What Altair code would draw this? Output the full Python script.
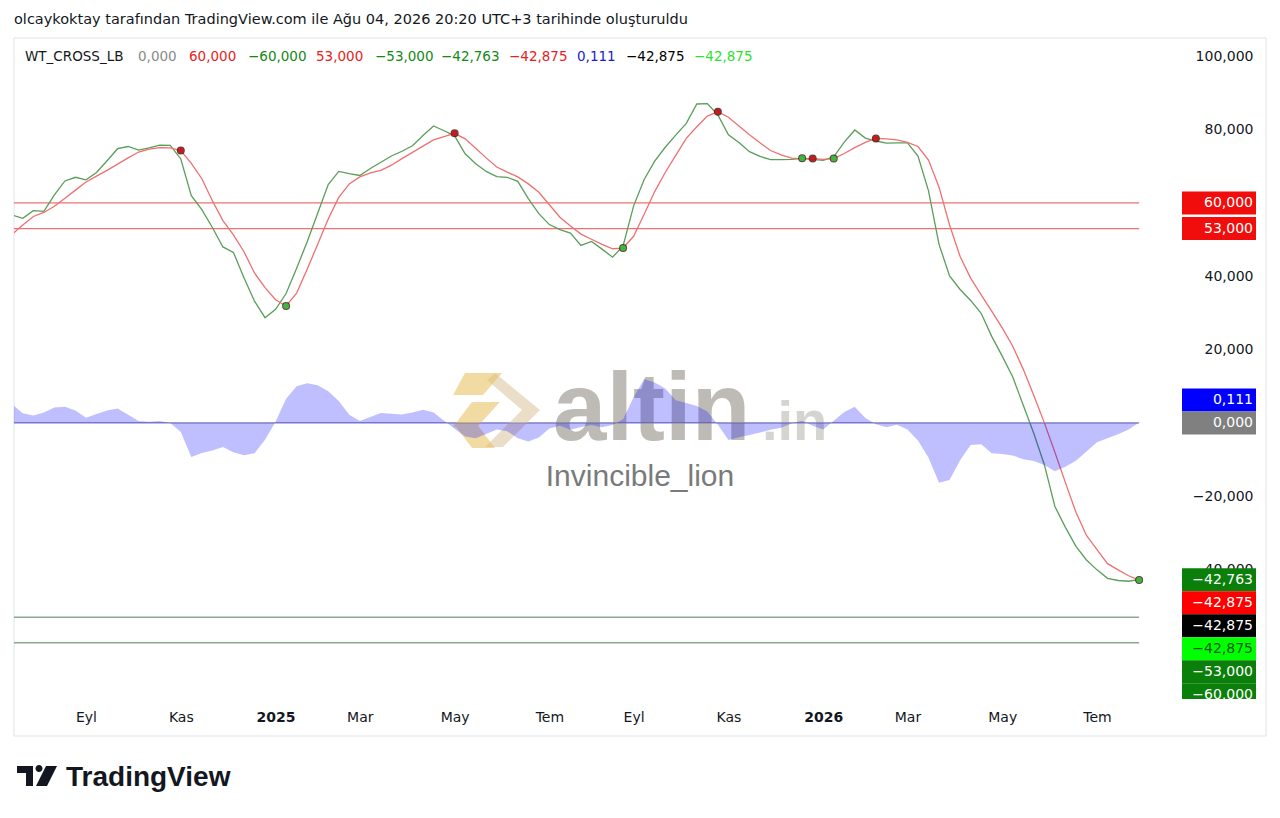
import altair as alt
import pandas as pd

# ------------------------------------------------------------------ data
START = "2024-07-15"  # first weekly bar (Monday)

wt1 = [56.7, 55.8, 57.9, 57.7, 62.2, 66.0, 67.0, 66.3, 68.3, 71.5,
       74.8, 75.4, 74.4, 75.0, 75.8, 75.7, 72.0, 62.0, 58.2, 53.3,
       48.0, 46.5, 39.6, 33.2, 28.7, 31.0, 35.3, 42.2, 49.4, 57.2,
       65.0, 68.6, 68.0, 67.5, 69.4, 71.1, 72.8, 74.1, 75.6, 78.4,
       81.0, 79.7, 78.3, 73.4, 70.7, 68.6, 67.2, 67.0, 65.9, 61.2,
       57.1, 54.1, 52.7, 51.8, 48.4, 49.5, 47.4, 45.2, 48.3, 59.2,
       66.4, 71.4, 75.2, 78.5, 81.7, 87.0, 87.1, 84.0, 78.6, 76.5,
       74.0, 72.7, 71.8, 71.8, 71.9, 72.2, 71.9, 71.6, 72.6, 76.6,
       79.9, 77.7, 76.9, 76.3, 76.4, 76.4, 72.8, 63.3, 48.7, 40.1,
       36.4, 33.4, 29.9, 23.6, 18.2, 12.5, 4.8, -2.9, -11.4, -22.8,
       -28.5, -33.7, -37.4, -40.1, -42.4, -43.0, -43.2, -42.763]

wt2 = [51.5, 54.0, 56.3, 57.4, 59.1, 61.3, 63.5, 65.7, 67.3, 68.9,
       70.6, 72.3, 73.9, 74.7, 75.1, 75.0, 74.3, 70.8, 66.6, 60.6,
       55.2, 51.3, 46.7, 40.9, 36.9, 33.6, 31.9, 35.4, 41.9, 48.7,
       55.6, 61.5, 65.2, 67.1, 68.2, 68.9, 70.3, 72.1, 73.8, 75.5,
       77.2, 78.1, 79.0, 77.5, 74.9, 72.3, 69.8, 68.4, 67.1, 65.2,
       62.9, 59.5, 56.1, 53.7, 51.5, 50.1, 48.7, 47.5, 47.7, 50.9,
       56.9, 63.1, 68.3, 73.0, 77.6, 80.8, 83.7, 84.9, 83.4, 81.0,
       78.6, 76.4, 74.3, 73.1, 72.2, 72.0, 72.1, 71.9, 72.1, 73.5,
       75.1, 76.5, 77.6, 77.5, 77.2, 76.5, 75.4, 71.7, 64.3, 54.0,
       45.4, 39.5, 34.9, 30.5, 25.9, 20.9, 14.6, 7.5, 0.0, -8.0,
       -16.3, -24.4, -30.7, -34.6, -38.4, -40.1, -41.7, -42.875]

wt_diff = [5.0, 2.6, 2.0, 2.8, 4.2, 4.4, 3.4, 1.4, 2.4, 3.4,
           3.9, 2.2, 0.5, 0.3, 0.5, 0.0, -2.5, -9.3, -8.2, -7.5,
           -6.6, -8.0, -8.8, -8.3, -4.6, 0.3, 6.6, 10.0, 10.8, 10.3,
           8.6, 6.0, 2.2, 0.5, 1.6, 2.7, 2.5, 2.3, 2.8, 3.6,
           2.8, 0.6, -1.6, -3.7, -4.2, -3.0, -1.8, -2.3, -4.2, -5.1,
           -4.0, -1.5, -0.8, -1.9, -1.1, -0.6, -1.2, -0.6, 1.0, 7.0,
           12.0, 11.0, 9.4, 6.2, 5.4, 4.6, 3.1, -0.5, -4.7, -3.9,
           -3.3, -2.6, -1.9, -1.3, -0.2, 0.6, -0.8, -1.8, 0.6, 3.0,
           4.4, 1.3, -0.4, -1.2, -0.5, -1.8, -4.8, -9.5, -16.3, -15.6,
           -10.2, -6.0, -5.8, -8.3, -8.5, -8.9, -9.9, -10.4, -11.5, -13.2,
           -12.0, -10.3, -7.8, -5.3, -4.2, -3.1, -1.8, 0.111]

cross_dates = ["2024-11-04", "2025-01-13", "2025-05-05", "2025-08-25", "2025-10-27",
               "2025-12-22", "2025-12-29", "2026-01-12", "2026-02-09", "2026-08-03"]
cross_values = [74.3, 31.9, 79.0, 47.7, 84.9, 72.2, 72.1, 72.1, 77.6, -42.875]
cross_dir = ["down", "up", "down", "up", "down", "up", "down", "up", "down", "up"]

ob_levels = [60.0, 53.0]
os_levels = [-53.0, -60.0]

legend_name = "WT_CROSS_LB"
legend_values = [0.0, 60.0, -60.0, 53.0, -53.0, -42.763, -42.875, 0.111, -42.875, -42.875]

scale_label_values = [60.0, 53.0, 0.111, 0.0, -42.763, -42.875, -42.875, -42.875, -53.0, -60.0]

month_ticks = ["2024-09-02", "2024-11-04", "2025-01-06", "2025-03-03", "2025-05-05", "2025-07-07",
               "2025-09-01", "2025-11-03", "2026-01-05", "2026-03-02", "2026-05-04", "2026-07-06"]
y_ticks = [100, 80, 40, 20, -20, -40]

title_text = "olcaykoktay tarafından TradingView.com ile Ağu 04, 2026 20:20 UTC+3 tarihinde oluşturuldu"

# ------------------------------------------------------------------ styles / layout
W, H = 1166, 662
YMIN, YMAX = -75.6, 105.0
FONT = "DejaVu Sans"
INK = "#131722"
GREEN_LINE = "#5a9e5a"
RED_LINE = "#ef7070"

legend_colors = ["#8a8a8a", "#e52222", "#138a13", "#e52222", "#138a13",
                 "#138a13", "#e52222", "#1c1cc8", "#000000", "#2fe02f"]
LEGEND_X = [11, 124, 175, 234, 302, 361, 427, 495, 563, 612, 680]

label_fill = ["#f20d0d", "#f20d0d", "#0000ff", "#808080", "#0a800a",
              "#ff0000", "#000000", "#00ff00", "#0a800a", "#0a800a"]
label_ink = ["#ffffff", "#ffffff", "#ffffff", "#ffffff", "#ffffff",
             "#ffffff", "#ffffff", "#0d5a0d", "#ffffff", "#ffffff"]
LABEL_ANCHOR = [0, 1, 3, 3, 4, 4, 4, 4, 4, 4]
LABEL_ROW = [0, 0, -1, 0, 0, 1, 2, 3, 4, 5]
BOX_H = 23.0
PX_PER_UNIT = H / (YMAX - YMIN)


def fmt(v):
    return f"{v:.3f}".replace(".", ",").replace("-", "\u2212")


def dt(s, h=0, m=0):
    y, mo, d = (int(p) for p in s.split("-"))
    return alt.DateTime(year=y, month=mo, date=d, hours=h, minutes=m, utc=True)


dates = [(pd.Timestamp(START) + pd.Timedelta(days=7 * i)).strftime("%Y-%m-%d")
         for i in range(len(wt1))]
df = pd.DataFrame({"date": dates, "wt1": wt1, "wt2": wt2, "diff": wt_diff})
cross_df = pd.DataFrame({"date": cross_dates, "value": cross_values, "dir": cross_dir})
lvl_df = pd.DataFrame({
    "level": ob_levels + os_levels + [0.0],
    "kind": ["ob"] * len(ob_levels) + ["os"] * len(os_levels) + ["zero"],
    "start": dates[0], "end": dates[-1],
})
disp = [scale_label_values[a] - r * BOX_H / PX_PER_UNIT for a, r in zip(LABEL_ANCHOR, LABEL_ROW)]
lab_df = pd.DataFrame({
    "text": [fmt(v) for v in scale_label_values],
    "disp": disp, "fill": label_fill, "ink": label_ink,
})
one = pd.DataFrame({"k": [0]})

# ------------------------------------------------------------------ scales / axes
xscale = alt.Scale(type="utc", domain=[dt("2024-07-16", 3, 26), dt("2026-08-30", 3, 50)])
yscale = alt.Scale(domain=[YMIN, YMAX], nice=False, zero=False)

x_axis = alt.Axis(
    values=[dt(s) for s in month_ticks],
    labelExpr="utcmonth(datum.value) == 0 ? utcFormat(datum.value, '%Y') : "
              "['Oca','Şub','Mar','Nis','May','Haz','Tem','Ağu','Eyl','Eki','Kas','Ara'][utcmonth(datum.value)]",
    labelFontWeight={"condition": {"test": "utcmonth(datum.value) == 0", "value": "bold"}, "value": "normal"},
    labelFont=FONT, labelFontSize=14, labelColor=INK, labelBaseline="middle",
    labelPadding=17, ticks=False, tickSize=0, domain=False, grid=False,
    labelOverlap=False, labelFlush=False, title=None,
)
y_axis = alt.Axis(
    values=y_ticks, orient="right",
    labelExpr="replace(format(datum.value, '.3f'), '.', ',')",
    labelFont=FONT, labelFontSize=14, labelColor=INK, labelAlign="right",
    labelBaseline="middle", labelPadding=73, ticks=False, tickSize=0,
    domain=False, grid=False, labelOverlap=False, labelFlush=False, title=None,
)


def X(field):
    return alt.X(field, scale=xscale, axis=x_axis)


def Y(field):
    return alt.Y(field, scale=yscale, axis=y_axis)


# ------------------------------------------------------------------ layers
layers = []

# pane border
layers.append(alt.Chart(one).mark_rect(fillOpacity=0, stroke="#e0e3eb", strokeWidth=1).encode(
    x=alt.value(0), x2=alt.value(1252), y=alt.value(0), y2=alt.value(698)))

# level lines
for kind, col, sw in [("zero", "#7c7cb4", 1.2), ("ob", "#ee7070", 1.2), ("os", "#8aab8a", 1.5)]:
    layers.append(alt.Chart(lvl_df).transform_filter(alt.datum.kind == kind).mark_rule(
        color=col, strokeWidth=sw, clip=True).encode(
        x=X("start:T"), x2="end:T", y=Y("level:Q")))

# watermark logo
logo_beige = "M0,-0.822L1,0L0.178,0.822L-0.222,0.822L0.6,0L-0.178,-0.667Z"
logo_gold = ("M-0.667,-0.822L0.156,-0.822L-0.267,-0.333L-0.933,-0.333Z "
             "M-0.511,-0.178L0.111,-0.178L-0.4,0.378L-0.933,0.378Z "
             "M-0.933,0.289L-0.422,0.289L0,0.844L-0.511,0.844Z")
layers.append(alt.Chart(one).mark_point(shape=logo_beige, size=8100, filled=True, color="#d9c29c",
                                        opacity=0.55, strokeWidth=0).encode(
    x=alt.value(481), y=alt.value(372)))
layers.append(alt.Chart(one).mark_point(shape=logo_gold, size=8100, filled=True, color="#e6bd58",
                                        opacity=0.55, strokeWidth=0).encode(
    x=alt.value(481), y=alt.value(372)))
layers.append(alt.Chart(one).mark_text(text="altin", font="Liberation Sans", fontWeight="bold",
                                       fontSize=96, color="#8a857d", opacity=0.55, align="left",
                                       baseline="alphabetic").encode(
    x=alt.value(539), y=alt.value(402)))
layers.append(alt.Chart(one).mark_text(text=".in", font="Liberation Sans", fontWeight="bold",
                                       fontSize=56, color="#8a857d", opacity=0.35, align="left",
                                       baseline="alphabetic").encode(
    x=alt.value(748), y=alt.value(402)))
layers.append(alt.Chart(one).mark_text(text="Invincible_lion", font="Liberation Sans",
                                       fontSize=30, color="#7a7a7a", align="center",
                                       baseline="middle").encode(
    x=alt.value(626), y=alt.value(439)))

# series
base = alt.Chart(df)
layers.append(base.mark_line(color=GREEN_LINE, strokeWidth=1.3, clip=True).encode(
    x=X("date:T"), y=Y("wt1:Q")))
layers.append(base.mark_line(color=RED_LINE, strokeWidth=1.3, clip=True).encode(
    x=X("date:T"), y=Y("wt2:Q")))
layers.append(base.mark_area(color="#0000ff", opacity=0.25, clip=True).encode(
    x=X("date:T"), y=Y("diff:Q"), y2=alt.datum(0)))

# cross dots
for d, col in [("down", "#c41c1c"), ("up", "#3cb83c")]:
    sub = alt.Chart(cross_df).transform_filter(alt.datum.dir == d)
    layers.append(sub.mark_circle(size=64, color="#3a1414", opacity=0.8).encode(
        x=X("date:T"), y=Y("value:Q")))
    layers.append(sub.mark_circle(size=36, color=col, opacity=1).encode(
        x=X("date:T"), y=Y("value:Q")))

# price-scale labels
lab = alt.Chart(lab_df)
layers.append(lab.mark_rect(yOffset=-BOX_H / 2, y2Offset=BOX_H / 2).encode(
    x=alt.value(1168), x2=alt.value(1242), y=Y("disp:Q"), y2="disp:Q",
    color=alt.Color("fill:N", scale=None)))
layers.append(lab.mark_text(align="right", baseline="middle", font=FONT, fontSize=14).encode(
    x=alt.value(1239), y=Y("disp:Q"), text="text:N", color=alt.Color("ink:N", scale=None)))
# time-axis strip under the price scale
layers.append(alt.Chart(one).mark_rect(color="white").encode(
    x=alt.value(1166), x2=alt.value(1250), y=alt.value(661), y2=alt.value(697)))

# legend row
legend_texts = [legend_name] + [fmt(v) for v in legend_values]
legend_cols = [INK] + legend_colors
for t, c, lx in zip(legend_texts, legend_cols, LEGEND_X):
    layers.append(alt.Chart(one).mark_text(text=t, font=FONT, fontSize=13.5, color=c,
                                           align="left", baseline="middle").encode(
        x=alt.value(lx), y=alt.value(19)))

# header text
layers.append(alt.Chart(one).mark_text(text=title_text, font=FONT, fontSize=14.5, color=INK,
                                       align="left", baseline="middle").encode(
    x=alt.value(0), y=alt.value(-18)))

# TradingView logo
tv_path = ("M-1,-0.5L-0.2,-0.5L-0.2,0.5L-0.55,0.5L-0.55,-0.15L-1,-0.15Z "
           "M0.45,-0.5L1,-0.5L0.5,0.5L-0.05,0.5Z "
           "M-0.075,-0.375A0.175,0.175,0,1,0,0.275,-0.375A0.175,0.175,0,1,0,-0.075,-0.375Z")
layers.append(alt.Chart(one).mark_point(shape=tv_path, size=1600, filled=True, color=INK,
                                        opacity=1, strokeWidth=0).encode(
    x=alt.value(23), y=alt.value(738)))
layers.append(alt.Chart(one).mark_text(text="TradingView", font="Liberation Sans", fontWeight="bold",
                                       fontSize=28, color=INK, align="left",
                                       baseline="alphabetic").encode(
    x=alt.value(52), y=alt.value(748)))

chart = alt.layer(*layers).properties(
    width=W, height=H, autosize="none",
    padding={"left": 6, "top": 30, "right": 92, "bottom": 110},
    background="white",
).configure_view(stroke=None)

chart.save("out.html", embed_options={"renderer": "svg", "actions": False})
